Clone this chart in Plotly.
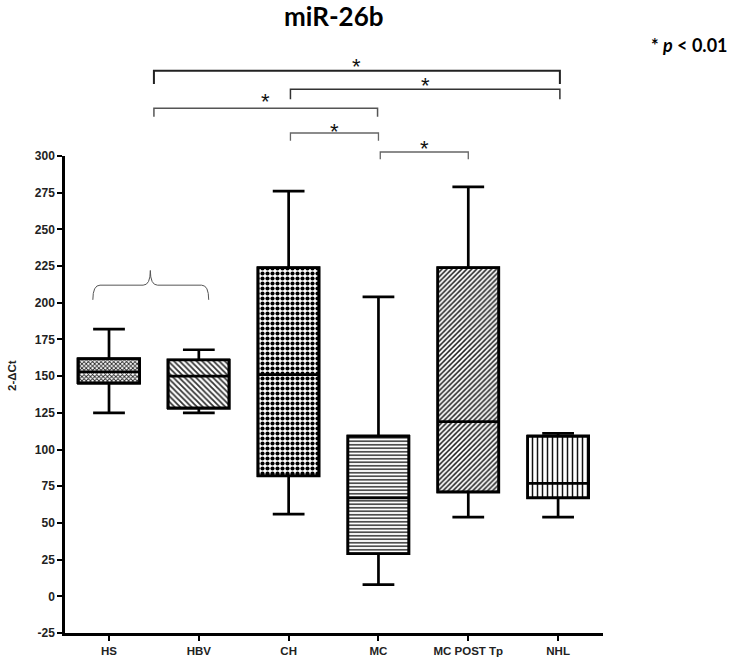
import plotly.graph_objects as go

# ---- data ----
categories = ["HS", "HBV", "CH", "MC", "MC POST Tp", "NHL"]
lower_whisker = [125, 125, 56, 8, 54, 54]
q1 = [145, 128, 82, 29, 71, 67]
median = [153, 150, 151, 67, 119, 77]
q3 = [162, 161, 224, 109, 224, 109]
upper_whisker = [182, 168, 276, 204, 279, 111]

y_ticks = list(range(-25, 301, 25))

# significance brackets: (left position, right position) in category units
bracket_pairs = [(0.5, 5.02), (2.02, 5.02), (0.5, 2.99), (2.02, 3.0), (3.02, 4.0)]

# ---- style ----
patterns = ["x", "\\", ".", "-", "/", "|"]
pattern_fg = ["#222222", "#333333", "#000000", "#222222", "#222222", "#111111"]
pattern_size = [3, 4, 5, 3.5, 3.5, 5]
pattern_solidity = [0.5, 0.45, 0.55, 0.4, 0.45, 0.3]

W, H = 733, 658
L, R, T, B = 65, 130, 156, 25
plot_h = H - T - B


def py(pix):
    """pixel row -> paper y"""
    return (H - B - pix) / plot_h


fig = go.Figure()

x_pos = list(range(len(categories)))

# patterned box bodies
fig.add_trace(go.Bar(
    x=x_pos,
    base=q1,
    y=[b - a for a, b in zip(q1, q3)],
    width=0.68,
    marker=dict(
        color="white",
        line=dict(color="black", width=2.5),
        pattern=dict(shape=patterns, fgcolor=pattern_fg, bgcolor="white",
                     size=pattern_size, solidity=pattern_solidity,
                     fillmode="replace"),
    ),
    hoverinfo="skip",
    showlegend=False,
))

# whiskers, outline, medians
fig.add_trace(go.Box(
    x=x_pos,
    q1=q1,
    median=median,
    q3=q3,
    lowerfence=lower_whisker,
    upperfence=upper_whisker,
    width=0.68,
    whiskerwidth=0.52,
    fillcolor="rgba(0,0,0,0)",
    line=dict(color="black", width=2.7),
    boxpoints=False,
    showlegend=False,
))

# bracket levels (pixel rows): top line, leg end, star centre, width, colour
bracket_style = [
    (70.7, 84.0, 61.7, 2.0, "#222222"),
    (89.3, 99.3, 80.7, 1.5, "#333333"),
    (108.3, 116.7, 96.0, 1.5, "#555555"),
    (133.0, 140.7, 126.7, 1.3, "#666666"),
    (152.0, 159.3, 143.3, 1.3, "#666666"),
]

shapes = []
annotations = []
for (x0, x1), (ytop, yleg, ystar, lw, col) in zip(bracket_pairs, bracket_style):
    yt, yl = py(ytop), py(yleg)
    shapes.append(dict(
        type="path", xref="x", yref="paper",
        path=f"M {x0},{yl} L {x0},{yt} L {x1},{yt} L {x1},{yl}",
        line=dict(color=col, width=lw),
    ))
    annotations.append(dict(
        x=(x0 + x1) / 2, xref="x", y=py(ystar + 5), yref="paper",
        text="*", showarrow=False, xanchor="center", yanchor="middle",
        font=dict(family="Arial, Liberation Sans", size=22, color="#111"),
    ))

# curly brace grouping HS and HBV
shapes.append(dict(
    type="path", xref="x", yref="y",
    path=("M -0.18,202 Q -0.18,212 -0.1,212 L 0.38,212 Q 0.46,212 0.46,222 "
          "Q 0.46,212 0.54,212 L 1.03,212 Q 1.11,212 1.11,202"),
    line=dict(color="#555555", width=1),
))

annotations.append(dict(
    x=0.5, xref="paper", y=py(16), yref="paper",
    text="<b>miR-26b</b>", showarrow=False, xanchor="center", yanchor="middle",
    font=dict(family="Lato, Open Sans, sans-serif", size=26, color="black"),
))
annotations.append(dict(
    x=(730 - L) / (W - L - R), xref="paper", y=py(45), yref="paper",
    text="<b>* <i>p</i> &lt; 0.01</b>", showarrow=False,
    xanchor="right", yanchor="middle",
    font=dict(family="Lato, Open Sans, sans-serif", size=18, color="black"),
))
annotations.append(dict(
    x=(12 - L) / (W - L - R), xref="paper", y=py(376), yref="paper",
    text="<b>2-ΔCt</b>", textangle=-90, showarrow=False,
    xanchor="center", yanchor="middle",
    font=dict(family="Arial, Liberation Sans", size=11.5, color="#222"),
))

fig.update_layout(
    width=W, height=H,
    margin=dict(l=L, r=R, t=T, b=B, autoexpand=False),
    plot_bgcolor="white", paper_bgcolor="white",
    shapes=shapes, annotations=annotations,
    bargap=0,
)
fig.update_xaxes(
    range=[-0.49, 5.5], tickvals=x_pos, ticktext=[f"<b>{c}</b>" for c in categories],
    showline=True, linecolor="black", linewidth=2.5,
    ticks="outside", ticklen=5, tickwidth=2, tickcolor="black",
    showgrid=False, zeroline=False,
    tickfont=dict(family="Arial, Liberation Sans", size=11.5, color="#222"),
)
fig.update_yaxes(
    range=[-25, 300], tickvals=y_ticks, ticktext=[f"<b>{v}</b>" for v in y_ticks],
    showline=True, linecolor="black", linewidth=2.5,
    ticks="outside", ticklen=5, tickwidth=2, tickcolor="black",
    showgrid=False, zeroline=False,
    tickfont=dict(family="Arial, Liberation Sans", size=12, color="#222"),
)

fig.write_html(
    "out.html",
    config={"displayModeBar": False},
    post_script="document.body.style.margin='0';document.body.style.overflow='hidden';",
)
